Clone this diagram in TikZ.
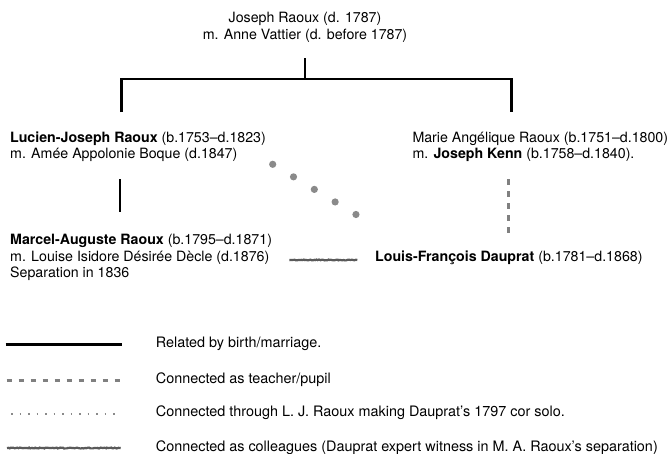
\documentclass[tikz,border=0pt]{standalone}
\usepackage{fontspec}
\setmainfont{TeX Gyre Heros}
\usetikzlibrary{decorations.pathmorphing}

\definecolor{dotgray}{HTML}{8A8A8A}
\definecolor{dashgray}{HTML}{808080}
\definecolor{wiggray}{HTML}{5A5A5A}

\tikzset{
    person/.style={anchor=base west, align=left, inner sep=0pt,
        font=\fontsize{14.2}{16.5}\selectfont},
    keytext/.style={anchor=base west, inner sep=0pt,
        font=\fontsize{14.4}{16}\selectfont},
    kin/.style={line width=2.8pt},
    pupil/.style={line width=3pt, dashgray, dash pattern=on 5.5pt off 6.5pt},
    solo/.style={line width=7.2pt, dotgray, line cap=round,
        dash pattern=on 0pt off 24.3pt},
    solokey/.style={line width=1.8pt, dotgray, dash pattern=on 1.8pt off 6.7pt},
    colleague/.style={line width=2.2pt, wiggray, decorate,
        decoration={random steps, segment length=1.3pt, amplitude=0.45pt}},
}

\begin{document}
\begin{tikzpicture}[x=1pt, y=-1pt]
    \useasboundingbox (0,0) rectangle (669,453);

    % People (base = last line)
    \node[person, anchor=base, align=center] (joseph) at (305,39)
        {Joseph Raoux (d. 1787)\\m. Anne Vattier (d. before 1787)};
    \node[person] (lucien) at (10,158.7)
        {\textbf{Lucien-Joseph Raoux} (b.1753–d.1823)\\m. Amée Appolonie Boque (d.1847)};
    \node[person] (marie) at (412.3,158.7)
        {Marie Angélique Raoux (b.1751–d.1800)\\m. \textbf{Joseph Kenn} (b.1758–d.1840).};
    \node[person] (marcel) at (10,277.5)
        {\textbf{Marcel-Auguste Raoux} (b.1795–d.1871)\\m. Louise Isidore Désirée Dècle (d.1876)\\Separation in 1836};
    \node[person] (dauprat) at (375,261)
        {\textbf{Louis-François Dauprat} (b.1781–d.1868)};

    % Family tree
    \coordinate (stub) at (305,58);
    \coordinate (fork) at (305,79);
    \coordinate (lleg) at (121.7,112);
    \coordinate (rleg) at (511.7,112);
    \draw[kin] (stub) -- (fork);
    \draw[kin] (lleg) |- (fork) -| (rleg);

    \coordinate (son top) at (120,179);
    \coordinate (son bot) at (120,212);
    \draw[kin] (son top) -- (son bot);

    % Other links
    \coordinate (kenn top) at (508.3,179);
    \coordinate (kenn bot) at (508.3,233);
    \draw[pupil] (kenn top) -- (kenn bot);

    \coordinate (solo a) at (272.7,164.3);
    \coordinate (solo b) at (356.8,215);
    \draw[solo] (solo a) -- (solo b);

    \coordinate (coll a) at (289.3,260);
    \coordinate (coll b) at (357.3,260);
    \draw[colleague] (coll a) -- (coll b);

    % Key
    \node[keytext] (k1) at (155.7,347.7) {Related by birth/marriage.};
    \node[keytext] (k2) at (155.7,383.3) {Connected as teacher/pupil};
    \node[keytext] (k3) at (155.7,416.7) {Connected through L. J. Raoux making Dauprat’s 1797 cor solo.};
    \node[keytext] (k4) at (155.7,451) {Connected as colleagues (Dauprat expert witness in M. A. Raoux’s separation)};

    \draw[kin] (5.7,344.3) -- (121.7,344.3);
    \draw[pupil] (6.7,380.3) -- (124,380.3);
    \draw[solokey] (11,414.3) -- (116,414.3);
    \draw[colleague] (7,448) -- (120.7,448);
\end{tikzpicture}
\end{document}
